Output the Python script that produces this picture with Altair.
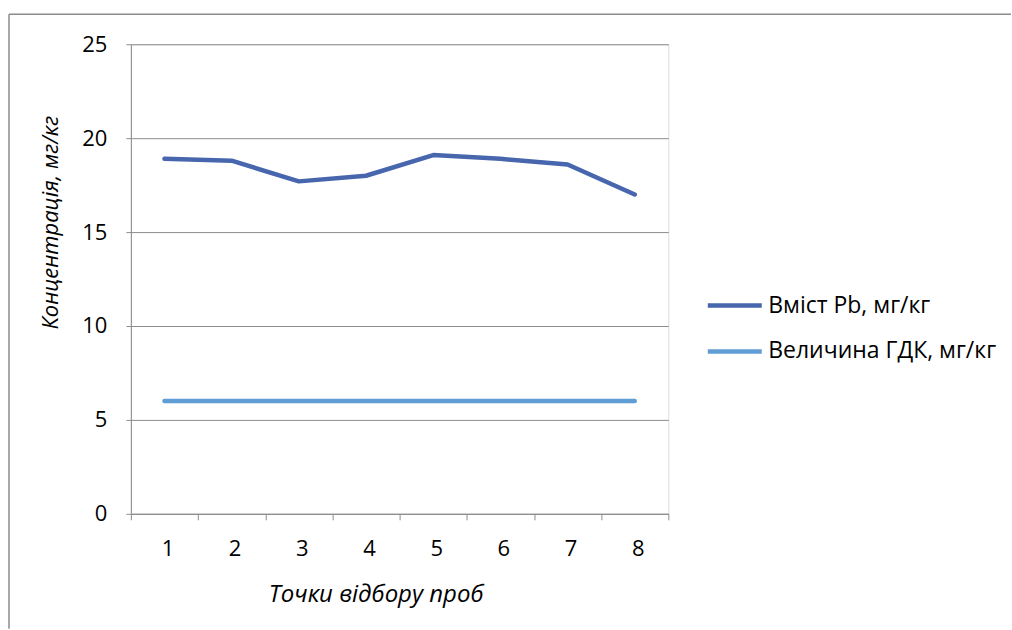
import altair as alt
import pandas as pd

points = [1, 2, 3, 4, 5, 6, 7, 8]
pb = [18.9, 18.8, 17.7, 18.0, 19.1, 18.9, 18.6, 17.0]
gdk = [6, 6, 6, 6, 6, 6, 6, 6]
series = ["Вміст Pb, мг/кг", "Величина ГДК, мг/кг"]
colors = ["#4766ad", "#5f9dd4"]
y_ticks = [0, 5, 10, 15, 20, 25]

rows = []
for p, v in zip(points, pb):
    rows.append({"point": p, "value": v, "series": series[0]})
for p, v in zip(points, gdk):
    rows.append({"point": p, "value": v, "series": series[1]})
df = pd.DataFrame(rows)

FONT = "Open Sans"
GRAY = "#8c8c8c"

lines = alt.Chart(df).mark_line(strokeWidth=4.5, strokeCap="round", strokeJoin="round").encode(
    x=alt.X("point:O", title="Точки відбору проб",
            scale=alt.Scale(paddingInner=0, paddingOuter=0),
            axis=alt.Axis(labelAngle=0, tickBand="extent", tickSize=6, tickColor=GRAY,
                          domainColor=GRAY, labelBaseline="alphabetic", labelPadding=36,
                          labelOffset=3, labelFontSize=22,
                          titleFontSize=24, titleFontStyle="italic", titleFontWeight="normal",
                          titleX=245, titleY=88, titleBaseline="alphabetic", titleAlign="center",
                          labelFont=FONT, titleFont=FONT,
                          labelColor="#000", titleColor="#000", grid=False)),
    y=alt.Y("value:Q", title="Концентрація, мг/кг",
            scale=alt.Scale(domain=[0, 25], nice=False),
            axis=alt.Axis(values=y_ticks, tickSize=5, tickColor=GRAY,
                          domainColor=GRAY, gridColor=GRAY, grid=True, labelPadding=19,
                          labelFontSize=22, titleFontSize=22, titleFontStyle="italic",
                          titleFontWeight="normal", titleX=-73, titleY=178,
                          titleBaseline="alphabetic", titleAlign="center", titleAngle=270,
                          labelFont=FONT, titleFont=FONT, labelColor="#000", titleColor="#000")),
    color=alt.Color("series:N", scale=alt.Scale(domain=series, range=colors),
                    legend=alt.Legend(title=None, orient="none", legendX=575, legendY=232,
                                      symbolType="stroke", symbolSize=2916,
                                      symbolStrokeWidth=4.5, labelFontSize=23, labelLimit=400,
                                      labelFont=FONT, labelColor="#000", rowPadding=4,
                                      labelOffset=4)),
    detail="series:N",
)

frame = pd.DataFrame({"a": [0]})
top_rule = alt.Chart(frame).mark_rule(stroke=GRAY, strokeWidth=1.5, clip=False).encode(
    x=alt.value(-122), x2=alt.value(881), y=alt.value(-30)
)
left_rule = alt.Chart(frame).mark_rule(stroke=GRAY, strokeWidth=1.5, clip=False).encode(
    x=alt.value(-122), y=alt.value(-30), y2=alt.value(585)
)

chart = alt.layer(top_rule, left_rule, lines).properties(
    width=538, height=470,
    padding={"left": 8, "top": 13, "right": 0, "bottom": 0},
).configure_view(stroke=None).configure(background="white")

chart.save("out.html", embed_options={"renderer": "svg", "actions": False})
